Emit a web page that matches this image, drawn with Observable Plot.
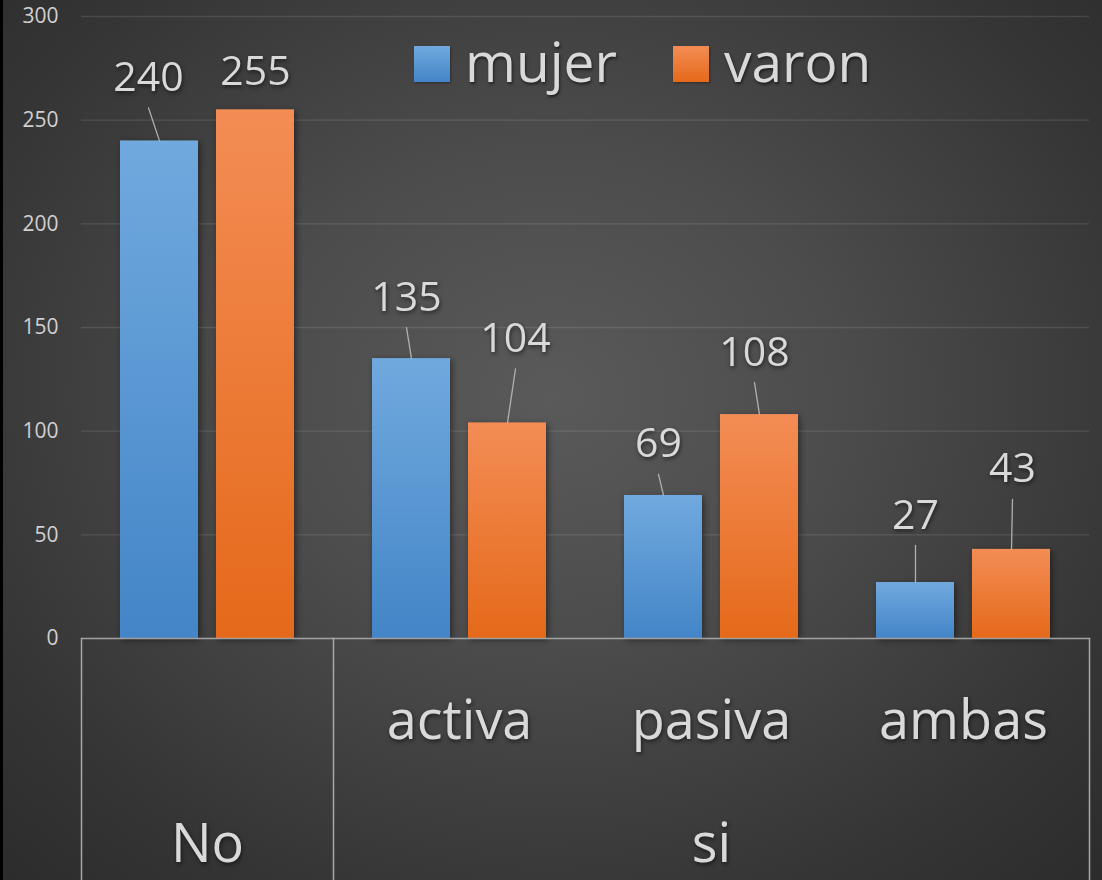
<!DOCTYPE html>
<html><head><meta charset="utf-8">
<script src="https://cdn.jsdelivr.net/npm/d3@7"></script>
<script src="https://cdn.jsdelivr.net/npm/@observablehq/plot@0.6"></script>
<style>
html,body{margin:0;padding:0;background:#000;}
#wrap{position:relative;width:1102px;height:880px;overflow:hidden;
  background:radial-gradient(ellipse 75% 80% at 50% 45%, #5a5a5a 0%, #4c4c4c 35%, #353535 75%, #2a2a2a 100%);
  font-family:"Open Sans",sans-serif;}
#stripe{position:absolute;left:0;top:0;width:3px;height:880px;background:#000;}
.leg{position:absolute;top:33px;display:flex;align-items:baseline;font-size:55px;line-height:55px;color:#d9d9d9;
  text-shadow:1px 2px 3px rgba(0,0,0,.55);white-space:nowrap;}
.sw{display:inline-block;width:36px;height:36px;margin-right:15px;box-shadow:1px 1px 2px rgba(0,0,0,.35);}
#wrap svg g[aria-label="text"] text{filter:drop-shadow(1px 2px 2px rgba(0,0,0,.55));}
#wrap svg g[aria-label="bar"] rect{filter:drop-shadow(2px 2px 3px rgba(0,0,0,.45));}
</style></head>
<body><div id="wrap"><div id="stripe"></div></div>
<script>
// ---- data ----
const groups = ["No", "activa", "pasiva", "ambas"];
const subLabels = ["", "activa", "pasiva", "ambas"];
const topLabels = [{label: "No", span: ["No"]}, {label: "si", span: ["activa", "pasiva", "ambas"]}];
const series = ["mujer", "varon"];
const mujer = [240, 135, 69, 27];
const varon = [255, 104, 108, 43];
const yTicks = [0, 50, 100, 150, 200, 250, 300];

// ---- style: label nudges in px relative to bar top centre ----
const nudgeMujer = [[-11, -50], [-5, -48], [-5, -38], [0, -54]];
const nudgeVaron = [[0, -25], [8, -71], [-5, -49], [1, -67]];
const leaderGap = 17;
const seriesColors = {mujer: ["#71A9DE", "#4385C7"], varon: ["#F38D55", "#E5691A"]};

const table = groups.flatMap((g, i) => [
  {group: g, sex: "mujer", value: mujer[i], nudge: nudgeMujer[i]},
  {group: g, sex: "varon", value: varon[i], nudge: nudgeVaron[i]}
]);
const leaders = table.map(d => {
  const vx = d.nudge[0], vy = d.nudge[1] + leaderGap;
  return {...d, len: Math.hypot(vx, vy), rot: Math.atan2(vx, -vy) * 180 / Math.PI};
}).filter(d => d.len > 12);

const subData = groups.map((g, i) => ({group: g, label: subLabels[i]}));
const topData = topLabels.map(t => ({group: t.span[Math.floor(t.span.length / 2)], label: t.label}));

const lineColor = "#a8a8a8";
const textColor = "#d9d9d9";

const chart = Plot.plot({
  width: 1102, height: 880,
  marginLeft: 80, marginRight: 12, marginTop: 16, marginBottom: 242,
  style: {background: "transparent", color: textColor, fontFamily: "Open Sans, sans-serif", overflow: "visible"},
  fx: {domain: groups, paddingInner: 0, paddingOuter: 0, axis: null, label: null},
  x: {domain: series, paddingInner: 0.1856, paddingOuter: 0.394, axis: null, label: null},
  y: {domain: [0, 300], label: null, axis: null},
  color: {domain: series, range: series.map(s => `url(#grad-${s})`)},
  length: {type: "identity"},
  marks: [
    Plot.gridY(yTicks, {stroke: "#ffffff", strokeOpacity: 0.11, strokeWidth: 1.3}),
    Plot.axisY(yTicks, {tickSize: 0, tickPadding: 23, fontSize: 21, color: "#d0d0d0", label: null}),
    Plot.barY(table, {fx: "group", x: "sex", y: "value", fill: "sex"}),
    Plot.ruleY([0], {stroke: lineColor, strokeWidth: 1.5, strokeOpacity: 0.9}),
    Plot.frame({anchor: "left", fx: () => "No", insetTop: 622, insetBottom: -242, stroke: lineColor, strokeWidth: 1.5}),
    Plot.frame({anchor: "left", fx: () => "activa", insetTop: 622, insetBottom: -242, stroke: lineColor, strokeWidth: 1.5}),
    Plot.frame({anchor: "right", fx: () => "ambas", insetTop: 622, insetBottom: -242, stroke: lineColor, strokeWidth: 1.5}),
    Plot.vector(leaders, {
      fx: "group", x: "sex", y: "value", length: "len", rotate: "rot", anchor: "start",
      stroke: "#b0b0b0", strokeWidth: 1.3, r: 0,
      shape: {draw(ctx, l) { ctx.moveTo(0, 0); ctx.lineTo(0, -l); }}
    }),
    ...table.map(d => Plot.text([d], {
      fx: "group", x: "sex", y: "value", text: v => String(v.value),
      dx: d.nudge[0], dy: d.nudge[1], lineAnchor: "bottom", fontSize: 41, fill: textColor
    })),
    Plot.text(subData, {fx: "group", text: "label", frameAnchor: "bottom", lineAnchor: "bottom", dy: 100, fontSize: 54, fill: textColor}),
    Plot.text(topData, {fx: "group", text: "label", frameAnchor: "bottom", lineAnchor: "bottom", dy: 223, fontSize: 54, fill: textColor})
  ]
});

// gradients for bars
const ns = "http://www.w3.org/2000/svg";
const defs = document.createElementNS(ns, "defs");
for (const s of series) {
  const lg = document.createElementNS(ns, "linearGradient");
  lg.setAttribute("id", `grad-${s}`);
  lg.setAttribute("x1", "0"); lg.setAttribute("y1", "0");
  lg.setAttribute("x2", "0"); lg.setAttribute("y2", "1");
  seriesColors[s].forEach((c, i) => {
    const st = document.createElementNS(ns, "stop");
    st.setAttribute("offset", i === 0 ? "0" : "1");
    st.setAttribute("stop-color", c);
    lg.appendChild(st);
  });
  defs.appendChild(lg);
}
chart.insertBefore(defs, chart.firstChild);

const wrap = document.getElementById("wrap");
wrap.appendChild(chart);

// legend (inside the plot area, top)
const legendLeft = {mujer: 414, varon: 673};
for (const s of series) {
  const item = document.createElement("div");
  item.className = "leg";
  item.style.left = legendLeft[s] + "px";
  const sw = document.createElement("span");
  sw.className = "sw";
  sw.style.background = `linear-gradient(${seriesColors[s][0]}, ${seriesColors[s][1]})`;
  const tx = document.createElement("span");
  tx.textContent = s;
  item.appendChild(sw); item.appendChild(tx);
  wrap.appendChild(item);
}
</script>
</body></html>
